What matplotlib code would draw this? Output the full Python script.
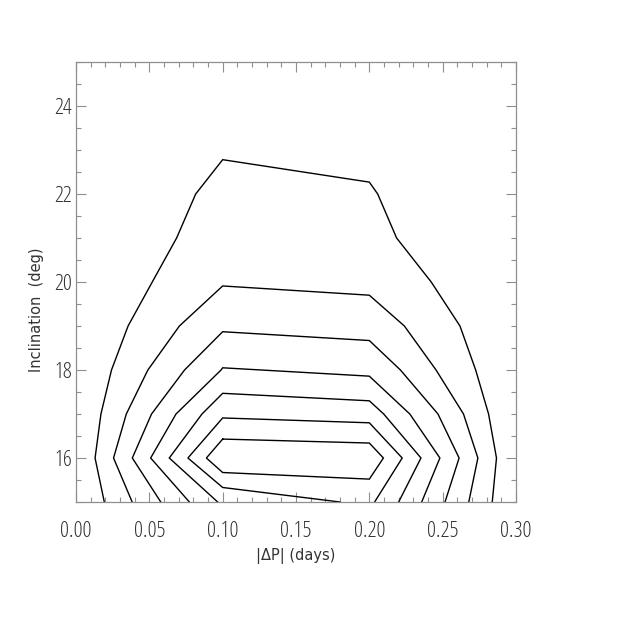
import matplotlib
matplotlib.use("Agg")
import matplotlib.pyplot as plt
from matplotlib.ticker import MultipleLocator, FormatStrFormatter

# ---- data: contour paths (|dP| in days, inclination in deg)
c1_dp = [0.0193, 0.0130, 0.0170, 0.0242, 0.0355, 0.0520, 0.0686, 0.0816, 0.100, 0.200,
         0.2057, 0.2186, 0.2422, 0.2618, 0.2725, 0.2813, 0.2867, 0.2838]
c1_inc = [15.0, 16.0, 17.0, 18.0, 19.0, 20.0, 21.0, 22.0, 22.78, 22.27,
          22.0, 21.0, 20.0, 19.0, 18.0, 17.0, 16.0, 15.0]

c2_dp = [0.0383, 0.0256, 0.0343, 0.0490, 0.0705, 0.100, 0.200, 0.2239, 0.2455, 0.2642, 0.2740, 0.2678]
c2_inc = [15.0, 16.0, 17.0, 18.0, 19.0, 19.91, 19.70, 19.0, 18.0, 17.0, 16.0, 15.0]

c3_dp = [0.0578, 0.0384, 0.0515, 0.0740, 0.100, 0.200, 0.2212, 0.2468, 0.2612, 0.2516]
c3_inc = [15.0, 16.0, 17.0, 18.0, 18.87, 18.67, 18.0, 17.0, 16.0, 15.0]

c4_dp = [0.0773, 0.0509, 0.0682, 0.0989, 0.100, 0.200, 0.2276, 0.2481, 0.2357]
c4_inc = [15.0, 16.0, 17.0, 18.0, 18.05, 17.86, 17.0, 16.0, 15.0]

c5_dp = [0.0966, 0.0636, 0.0859, 0.100, 0.200, 0.2098, 0.2352, 0.2200]
c5_inc = [15.0, 16.0, 17.0, 17.47, 17.30, 17.0, 16.0, 15.0]

c6_dp = [0.180, 0.100, 0.0763, 0.100, 0.200, 0.2224, 0.2036]
c6_inc = [15.0, 15.33, 16.0, 16.91, 16.80, 16.0, 15.0]

c7_dp = [0.100, 0.200, 0.2096, 0.200, 0.100, 0.0889, 0.100]
c7_inc = [16.43, 16.34, 16.0, 15.52, 15.67, 16.0, 16.43]

x_ticks = [0.00, 0.05, 0.10, 0.15, 0.20, 0.25, 0.30]
y_ticks = [16, 18, 20, 22, 24]
x_label = "|ΔP| (days)"
y_label = "Inclination  (deg)"

contours = [(c1_dp, c1_inc), (c2_dp, c2_inc), (c3_dp, c3_inc), (c4_dp, c4_inc),
            (c5_dp, c5_inc), (c6_dp, c6_inc), (c7_dp, c7_inc)]

frame_col = "#8f8f8f"
text_col = "#333333"

fig = plt.figure(figsize=(6.28, 6.28), dpi=100)
ax = fig.add_axes([76 / 628, 1 - 502 / 628, 440 / 628, 440 / 628])

for xs, ys in contours:
    ax.plot(xs, ys, color="black", lw=1.0, solid_joinstyle="miter")

ax.set_xlim(0.0, 0.30)
ax.set_ylim(15, 25)
ax.set_xticks(x_ticks)
ax.set_yticks(y_ticks)
ax.xaxis.set_minor_locator(MultipleLocator(0.01))
ax.yaxis.set_minor_locator(MultipleLocator(0.5))
ax.xaxis.set_major_formatter(FormatStrFormatter("%.2f"))
ax.yaxis.set_major_formatter(FormatStrFormatter("%d"))

for s in ax.spines.values():
    s.set_color(frame_col)
    s.set_linewidth(0.9)

ax.tick_params(which="both", direction="in", top=True, right=True, color=frame_col, width=0.8)
ax.tick_params(which="major", length=7.2)
ax.tick_params(which="minor", length=3.6)
ax.tick_params(axis="x", which="major", pad=14, labelcolor=text_col)
ax.tick_params(axis="y", which="major", pad=3, labelcolor=text_col)

for lab in ax.get_xticklabels() + ax.get_yticklabels():
    lab.set_fontfamily(["Open Sans", "DejaVu Sans"])
    lab.set_fontstretch("condensed")
    lab.set_fontweight(300)
    lab.set_fontsize(16)

fig.text(296 / 628, 1 - 556 / 628, x_label, ha="center", va="center",
         fontsize=10.5, color=text_col, family=["DejaVu Sans"])
fig.text(37 / 628, 1 - 310 / 628, y_label, ha="center", va="center", rotation=90,
         fontsize=10.5, color=text_col, family=["DejaVu Sans"])

fig.savefig("out.png", dpi=100, facecolor="white")
